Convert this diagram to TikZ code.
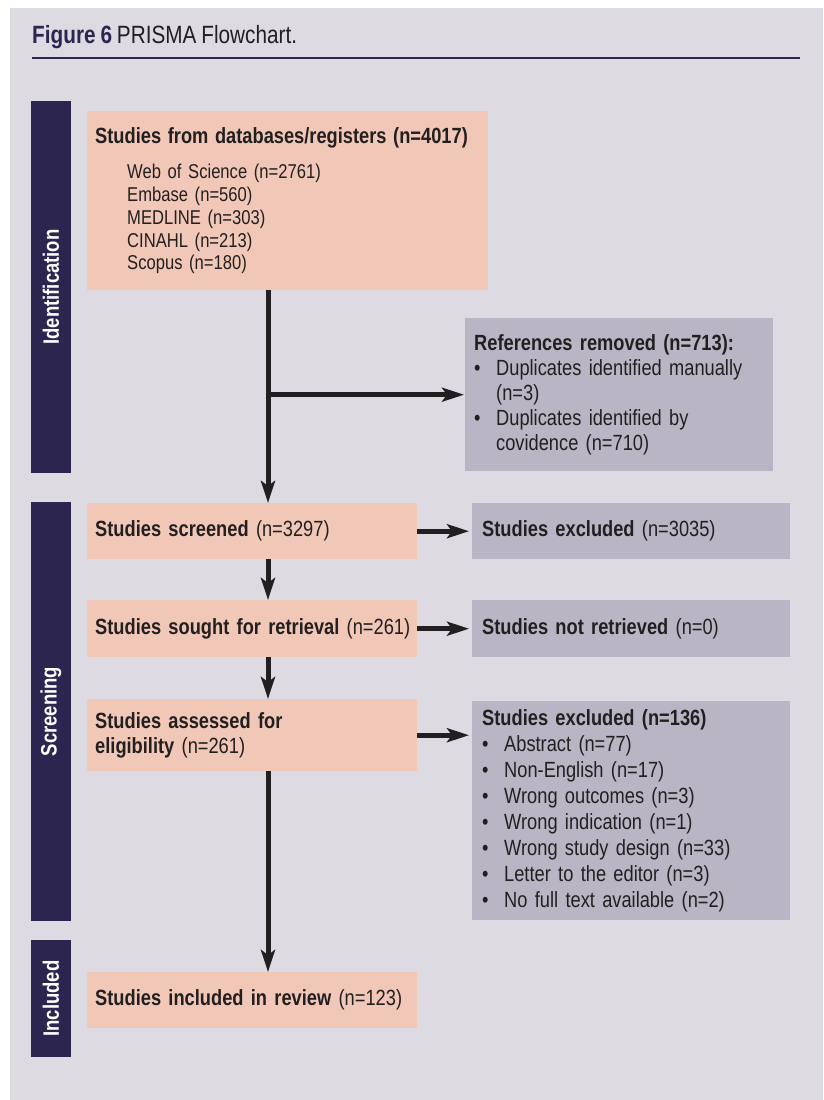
\documentclass[tikz,border=0pt]{standalone}
\usepackage{fontspec}
\setmainfont{Liberation Sans}[FakeStretch=0.83,WordSpace=0.85]
\usetikzlibrary{arrows.meta}
\definecolor{pagebg}{HTML}{DDDAE2}
\definecolor{navy}{HTML}{2B2550}
\definecolor{salmon}{HTML}{F1C8B7}
\definecolor{greybox}{HTML}{B9B5C5}
\definecolor{ink}{HTML}{231F20}

\begin{document}
\begin{tikzpicture}[x=1pt,y=1pt,
    phase/.style={fill=navy,text=white,rotate=90,minimum height=40pt,inner sep=0pt,font=\fontsize{22.3}{25}\selectfont\bfseries},
    mainbox/.style={fill=salmon,text=ink,anchor=north west,align=left,inner xsep=8pt,inner ysep=0pt,font=\fontsize{22}{25}\selectfont},
    sidebox/.style={fill=greybox,text=ink,anchor=north west,align=left,inner xsep=10pt,inner ysep=0pt,font=\fontsize{22}{25}\selectfont},
    flowarrow/.style={line width=5pt,ink,-{Stealth[length=22pt,width=14pt,inset=5pt]}}]
                        \useasboundingbox (0,0) rectangle (823,-1100);
                        \fill[pagebg] (10,-8) rectangle (823,-1100);
                        \node[anchor=base west,inner sep=0pt,text=ink,font=\fontsize{25}{28}\selectfont] (title) at (32,-43) {\textcolor{navy}{\bfseries Figure 6} PRISMA Flowchart.};
                        \draw[navy,line width=2.5pt] (32,-58) -- (800,-58);
                        \node[phase,minimum width=372pt] (ident) at (51,-287) {Identification};
                        \node[phase,minimum width=419pt] (screen) at (51,-711.5) {Screening};
                        \node[phase,minimum width=117pt] (incl) at (51,-998.5) {Included};
                        \node[mainbox,text width=385pt,minimum height=179pt,font=\fontsize{20}{22.75}\selectfont] (src) at (87,-111)
                            {{\fontsize{22}{22.75}\selectfont\bfseries Studies from databases/registers (n=4017)}\\[13pt]
                             \hspace*{32pt}Web of Science (n=2761)\\
                             \hspace*{32pt}Embase (n=560)\\
                             \hspace*{32pt}MEDLINE (n=303)\\
                             \hspace*{32pt}CINAHL (n=213)\\
                             \hspace*{32pt}Scopus (n=180)};
                        \node[sidebox,inner xsep=9pt,text width=290pt,minimum height=153pt] (refs) at (465,-318)
                            {\textbf{References removed (n=713):}\\
                             \makebox[22pt][l]{\textbullet}Duplicates identified manually\\
                             \hspace*{22pt}(n=3)\\
                             \makebox[22pt][l]{\textbullet}Duplicates identified by\\
                             \hspace*{22pt}covidence (n=710)};
                        \node[mainbox,text width=314pt,minimum height=56pt] (screened) at (87,-503) {\textbf{Studies screened} (n=3297)};
                        \node[sidebox,text width=298pt,minimum height=56pt] (excl) at (472,-503) {\textbf{Studies excluded} (n=3035)};
                        \node[mainbox,text width=314pt,minimum height=57pt] (sought) at (87,-600) {\mbox{\textbf{Studies sought for retrieval} (n=261)}};
                        \node[sidebox,text width=298pt,minimum height=57pt] (notret) at (472,-600) {\textbf{Studies not retrieved} (n=0)};
                        \node[mainbox,text width=314pt,minimum height=72pt] (assessed) at (87,-699) {\textbf{Studies assessed for}\\\textbf{eligibility} (n=261)};
                        \node[sidebox,text width=298pt,minimum height=219pt,font=\fontsize{22}{26}\selectfont] (exclfull) at (472,-701)
                            {\textbf{Studies excluded (n=136)}\\
                             \makebox[22pt][l]{\textbullet}Abstract (n=77)\\
                             \makebox[22pt][l]{\textbullet}Non-English (n=17)\\
                             \makebox[22pt][l]{\textbullet}Wrong outcomes (n=3)\\
                             \makebox[22pt][l]{\textbullet}Wrong indication (n=1)\\
                             \makebox[22pt][l]{\textbullet}Wrong study design (n=33)\\
                             \makebox[22pt][l]{\textbullet}Letter to the editor (n=3)\\
                             \makebox[22pt][l]{\textbullet}No full text available (n=2)};
                        \node[mainbox,text width=314pt,minimum height=56pt] (included) at (87,-972) {\textbf{Studies included in review} (n=123)};
                        % main line down the left column
                        \coordinate (spine) at (268,0);
                        \draw[flowarrow] (src.south -| spine) -- (screened.north -| spine);
                        \draw[flowarrow,shorten >=1pt] (spine |- refs.west) -- (refs.west);
                        \draw[flowarrow] (screened.south -| spine) -- (sought.north -| spine);
                        \draw[flowarrow] (sought.south -| spine) -- (assessed.north -| spine);
                        \draw[flowarrow] (assessed.south -| spine) -- (included.north -| spine);
                        \draw[flowarrow,shorten >=3pt] (screened) -- (excl);
                        \draw[flowarrow,shorten >=3pt] (sought) -- (notret);
                        \draw[flowarrow,shorten >=3pt] (assessed.east) -- (assessed.east -| exclfull.west);
                    \end{tikzpicture}
\end{document}
